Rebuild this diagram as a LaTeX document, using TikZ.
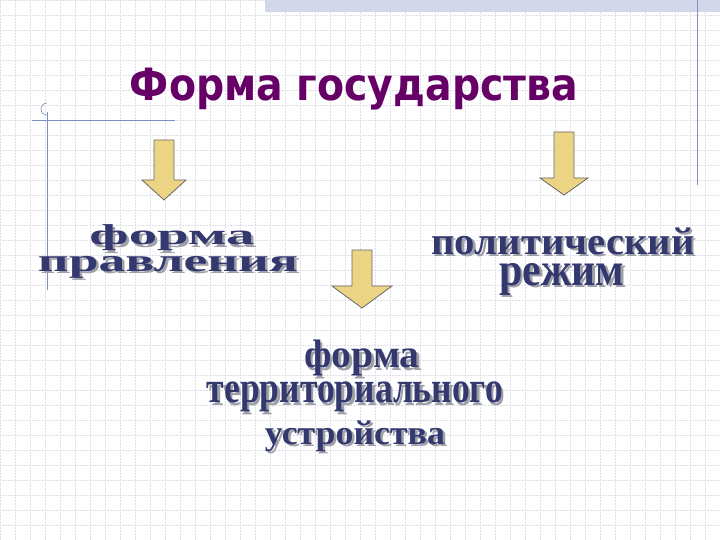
\documentclass[tikz,border=0pt]{standalone}
\usepackage{fontspec}
\setmainfont{Liberation Serif}
\newfontfamily\titlefont{DejaVu Sans}
\usepackage{graphicx}
\definecolor{navy}{HTML}{33386E}
\definecolor{shade}{HTML}{A0A0A8}
\definecolor{ttl}{HTML}{660066}
\definecolor{gridc}{HTML}{DDE0E8}
\definecolor{lblue}{HTML}{7F8FC0}
\definecolor{arrowfill}{HTML}{EBD584}
\tikzset{
  wa/.style={inner sep=0pt,text=navy},
  wash/.style={inner sep=0pt,text=shade},
  blockarrow/.style={fill=arrowfill,draw=black!60,line width=0.8pt}
}
\newcommand{\wart}[6]{% name, cx, cy, w, h, text
  \node[wash] at (#2+2.5,#3+2.5) {\resizebox*{#4pt}{#5pt}{\bfseries #6}};
  \node[wa] (#1) at (#2,#3) {\resizebox*{#4pt}{#5pt}{\bfseries #6}};}
\begin{document}
\begin{tikzpicture}[x=1pt,y=-1pt]
\useasboundingbox (0,0) rectangle (720,540);
\fill[white] (0,0) rectangle (720,540);
\foreach \i in {0,15,...,720} \draw[gridc,densely dotted,line width=0.5pt] (\i,0) -- (\i,540);
\foreach \j in {0,15,...,540} \draw[gridc,densely dotted,line width=0.5pt] (0,\j) -- (720,\j);
\fill[lblue!35] (265,0) rectangle (720,12);
\draw[lblue,line width=0.8pt] (697,0) -- (697,185);
\draw[lblue,line width=0.8pt] (32,120) -- (175,120);
\draw[lblue,line width=0.8pt] (47,112) -- (47,290);
\draw[lblue,line width=0.6pt] (47,115) arc (90:270:6);
\node[inner sep=0pt,text=ttl] (title) at (354,89) {\resizebox*{448pt}{42pt}{\titlefont\bfseries Форма государства}};
\draw[blockarrow] (154,140) -- (174,140) -- (174,180) -- (186,180) -- (164,200) -- (142,180) -- (154,180) -- cycle;
\draw[blockarrow] (554,132) -- (574,132) -- (574,178) -- (588,178) -- (564,195) -- (540,178) -- (554,178) -- cycle;
\draw[blockarrow] (352,250) -- (372,250) -- (372,286) -- (392,286) -- (362,308) -- (332,286) -- (352,286) -- cycle;
\wart{t1}{172}{238}{165}{26}{форма}
\wart{t2}{168}{267}{260}{22}{правления}
\wart{t3}{563}{241}{263}{27}{политический}
\wart{t4}{562}{279}{125}{32}{режим}
\wart{t5}{362}{358}{115}{36}{форма}
\wart{t6}{355}{397}{296}{30}{территориального}
\wart{t7}{355}{436}{180}{31}{устройства}
\end{tikzpicture}
\end{document}
